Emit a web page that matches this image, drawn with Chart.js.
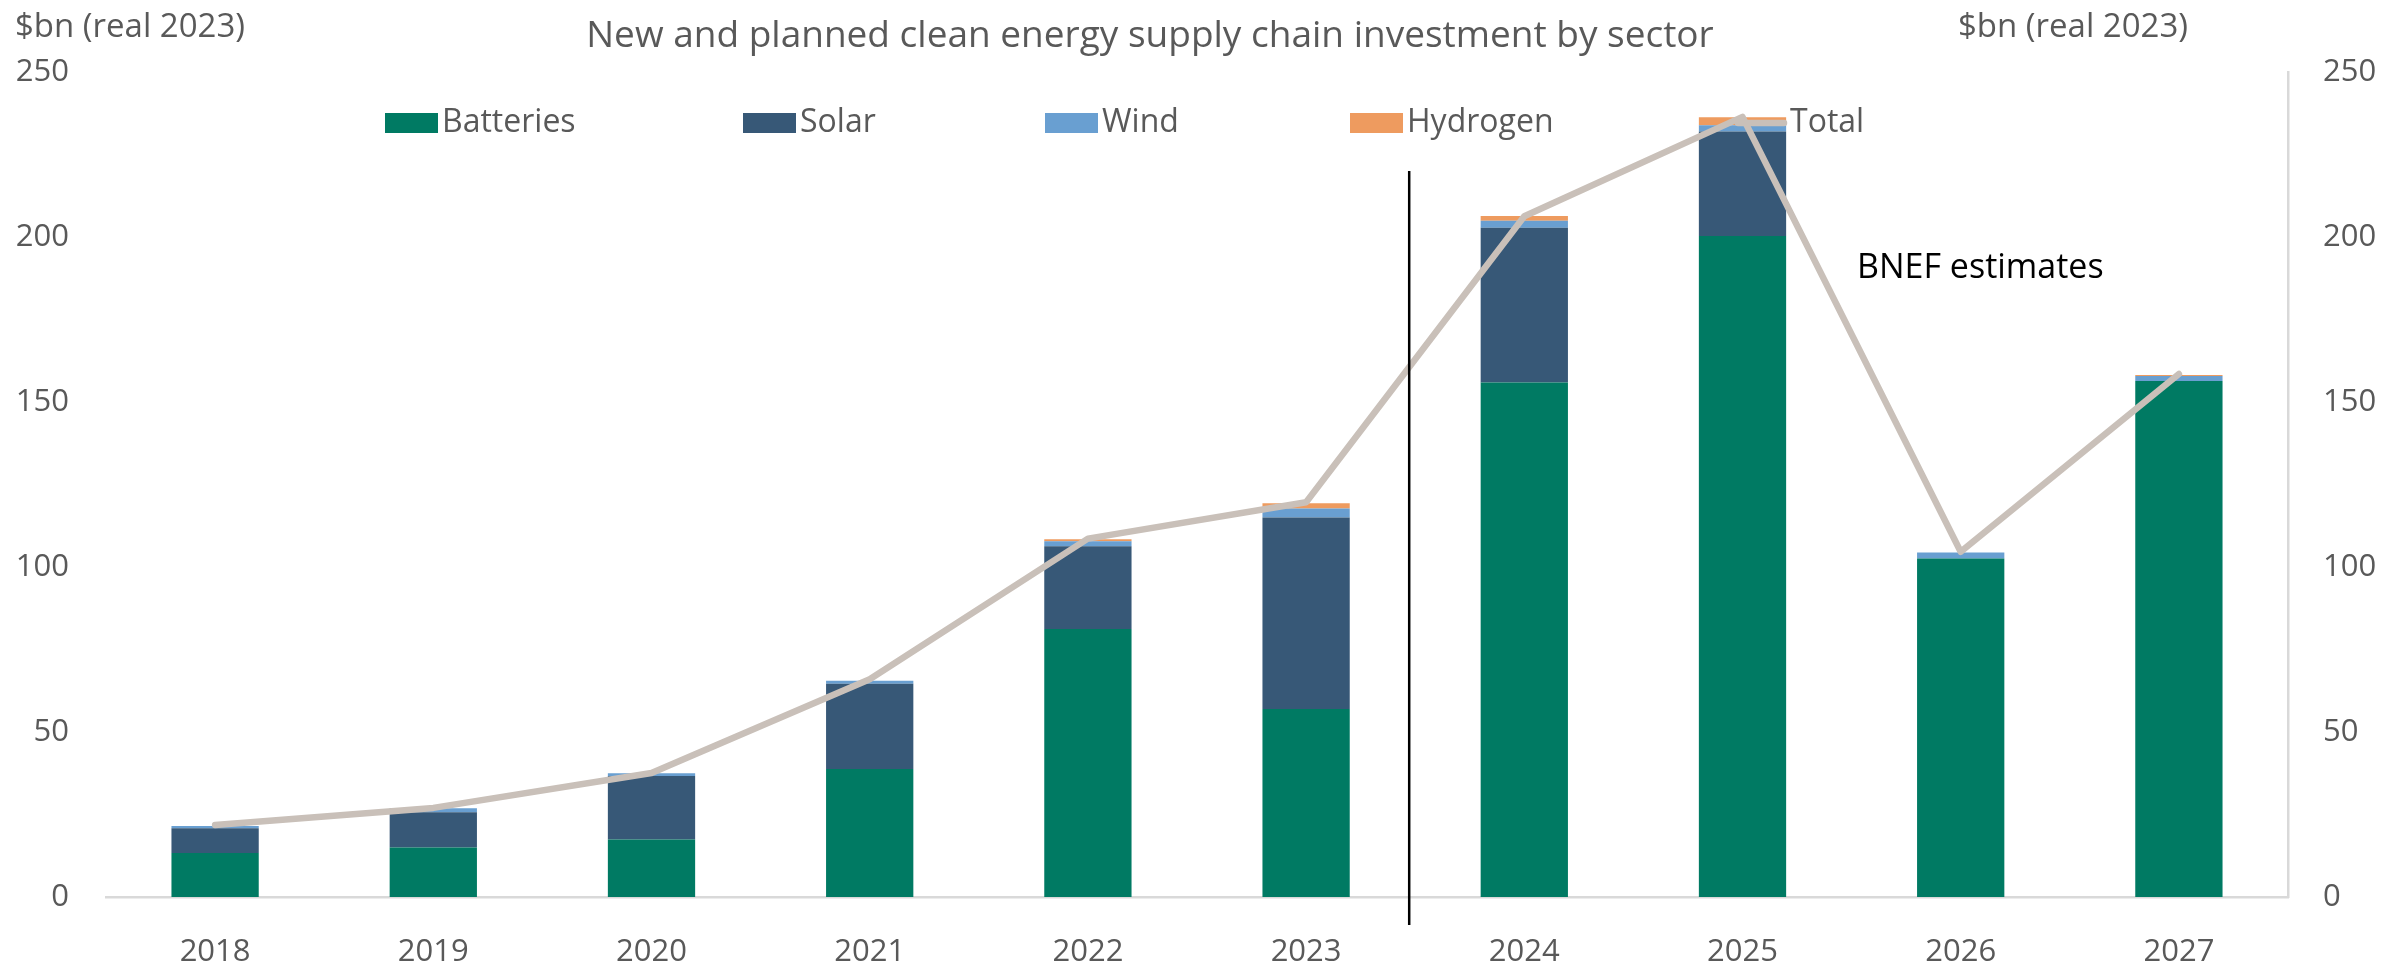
<!DOCTYPE html>
<html>
<head>
<meta charset="utf-8">
<script src="https://cdn.jsdelivr.net/npm/chart.js@4.4.1/dist/chart.umd.min.js"></script>
<style>
  html, body { margin: 0; padding: 0; background: #ffffff; }
  #wrap { width: 2389px; height: 964px; }
</style>
</head>
<body>
<div id="wrap"><canvas id="supplyChart" width="2389" height="964"></canvas></div>
<script>
// Clean energy supply chain investment, $bn (real 2023)
const years = ['2018', '2019', '2020', '2021', '2022', '2023', '2024', '2025', '2026', '2027'];
const batteries = [13.3, 15.0, 17.4, 38.8, 81.2, 57.0, 155.9, 200.3, 102.6, 156.4];
const solar = [7.5, 10.7, 19.3, 25.8, 25.1, 58.0, 46.9, 31.7, 0, 0];
const wind = [0.7, 1.2, 0.8, 0.9, 1.5, 2.7, 2.1, 1.9, 1.8, 1.5];
const hydrogen = [0, 0, 0, 0, 0.6, 1.6, 1.5, 2.4, 0, 0.3];
const totals = [21.8, 27.0, 37.6, 66.0, 108.6, 119.6, 206.3, 236.4, 104.6, 158.5];

const axisTitle = '$bn (real 2023)';
const chartTitle = 'New and planned clean energy supply chain investment by sector';
const estimateNote = 'BNEF estimates';
const dividerTop = 220; // value where the forecast divider starts

const FONT = "'Open Sans', 'Noto Sans', sans-serif";
const GREY_TEXT = '#595959';

const colors = {
  batteries: '#007A63',
  solar: '#375877',
  wind: '#699FD1',
  hydrogen: '#EE9B5F',
  total: '#C9C0B9'
};

// legend entries and where each one starts
const legendItems = [
  { label: 'Batteries', color: colors.batteries, x: 385 },
  { label: 'Solar', color: colors.solar, x: 743 },
  { label: 'Wind', color: colors.wind, x: 1045 },
  { label: 'Hydrogen', color: colors.hydrogen, x: 1350 },
  { label: 'Total', color: colors.total, x: 1708, line: true }
];

// title, axis titles, legend, divider and note are drawn by hand
const overlayPlugin = {
  id: 'overlay',
  afterDatasetsDraw(chart) {
    const { ctx, chartArea, scales } = chart;
    const x = scales.x;
    const y = scales.y;

    // divider between actuals and estimates
    const divX = (x.getPixelForValue(5) + x.getPixelForValue(6)) / 2 - 6;
    ctx.save();
    ctx.strokeStyle = '#000000';
    ctx.lineWidth = 2.5;
    ctx.beginPath();
    ctx.moveTo(divX, y.getPixelForValue(dividerTop));
    ctx.lineTo(divX, chartArea.bottom + 28);
    ctx.stroke();

    ctx.fillStyle = '#000000';
    ctx.font = '34px ' + FONT;
    ctx.textBaseline = 'middle';
    ctx.textAlign = 'left';
    ctx.fillText(estimateNote, 1857, 268);

    // title + axis titles
    ctx.fillStyle = GREY_TEXT;
    ctx.font = '37px ' + FONT;
    ctx.textAlign = 'center';
    ctx.fillText(chartTitle, 1150, 36);

    ctx.font = '33px ' + FONT;
    ctx.textAlign = 'left';
    ctx.fillText(axisTitle, 15, 28);
    ctx.fillText(axisTitle, 1958, 28);

    // legend
    const legendY = 123;
    ctx.font = '32px ' + FONT;
    legendItems.forEach(item => {
      if (item.line) {
        ctx.strokeStyle = item.color;
        ctx.lineWidth = 6.5;
        ctx.lineCap = 'round';
        ctx.beginPath();
        ctx.moveTo(item.x + 30, legendY);
        ctx.lineTo(item.x + 76, legendY);
        ctx.stroke();
        ctx.fillStyle = GREY_TEXT;
        ctx.fillText(item.label, item.x + 82, legendY);
      } else {
        ctx.fillStyle = item.color;
        ctx.fillRect(item.x, legendY - 10, 53, 20);
        ctx.fillStyle = GREY_TEXT;
        ctx.fillText(item.label, item.x + 57, legendY);
      }
    });
    ctx.restore();
  }
};

function barSet(label, data, color) {
  return {
    type: 'bar',
    label: label,
    data: data,
    backgroundColor: color,
    borderWidth: 0,
    yAxisID: 'y',
    order: 2
  };
}

const tickFont = { family: FONT, size: 31 };

const ctx = document.getElementById('supplyChart');
new Chart(ctx, {
  data: {
    labels: years,
    datasets: [
      barSet('Batteries', batteries, colors.batteries),
      barSet('Solar', solar, colors.solar),
      barSet('Wind', wind, colors.wind),
      barSet('Hydrogen', hydrogen, colors.hydrogen),
      {
        type: 'line',
        label: 'Total',
        data: totals,
        borderColor: colors.total,
        borderWidth: 6.5,
        borderCapStyle: 'round',
        borderJoinStyle: 'round',
        pointRadius: 0,
        tension: 0,
        yAxisID: 'y1',
        order: 1
      }
    ]
  },
  options: {
    responsive: false,
    devicePixelRatio: 1,
    animation: false,
    layout: { padding: { top: 72, left: 14, right: 11, bottom: 0 } },
    datasets: {
      bar: { barPercentage: 0.4, categoryPercentage: 1 }
    },
    plugins: {
      legend: { display: false },
      title: { display: false },
      tooltip: { enabled: false }
    },
    scales: {
      x: {
        stacked: true,
        grid: { display: false, drawTicks: false },
        border: { display: true, color: '#D9D9D9', width: 2.5 },
        ticks: { color: GREY_TEXT, font: tickFont, padding: 37 },
        afterFit(scale) { scale.height = 67; }
      },
      y: {
        stacked: true,
        min: 0,
        max: 250,
        grid: { display: false, drawTicks: false },
        border: { display: false },
        ticks: { stepSize: 50, color: GREY_TEXT, font: tickFont, padding: 37 },
        afterFit(scale) { scale.width = 92; }
      },
      y1: {
        position: 'right',
        min: 0,
        max: 250,
        grid: { display: false, drawTicks: false },
        border: { display: true, color: '#D9D9D9', width: 2.5 },
        ticks: { stepSize: 50, color: GREY_TEXT, font: tickFont, padding: 35 },
        afterFit(scale) { scale.width = 90; }
      }
    }
  },
  plugins: [overlayPlugin]
});
</script>
</body>
</html>
